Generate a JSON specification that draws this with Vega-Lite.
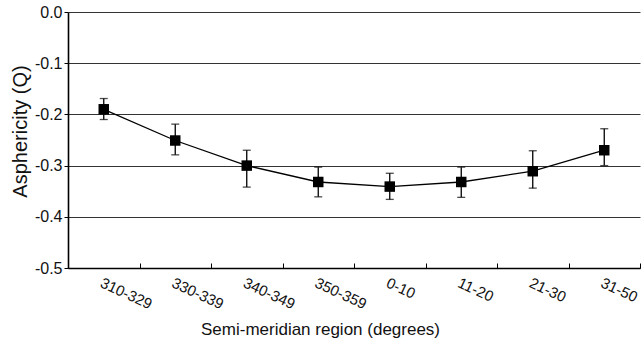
{
  "$schema": "https://vega.github.io/schema/vega-lite/v6.json",
  "autosize": "none",
  "width": 572,
  "height": 256,
  "padding": {"left": 68, "top": 12, "right": 4, "bottom": 75},
  "background": "white",
  "config": {
    "font": "Liberation Sans",
    "view": {"stroke": null},
    "axis": {"labelFont": "Liberation Sans", "titleFont": "Liberation Sans", "labelFontSize": 16, "titleFontSize": 17, "titleFontWeight": "normal", "labelColor": "#111", "titleColor": "#111"}
  },
  "data": {
    "values": [
      {"region": "310-329", "q": -0.19, "lo": -0.21, "hi": -0.169},
      {"region": "330-339", "q": -0.251, "lo": -0.279, "hi": -0.219},
      {"region": "340-349", "q": -0.30, "lo": -0.342, "hi": -0.27},
      {"region": "350-359", "q": -0.332, "lo": -0.361, "hi": -0.303},
      {"region": "0-10", "q": -0.341, "lo": -0.366, "hi": -0.315},
      {"region": "11-20", "q": -0.332, "lo": -0.362, "hi": -0.303},
      {"region": "21-30", "q": -0.311, "lo": -0.344, "hi": -0.271},
      {"region": "31-50", "q": -0.27, "lo": -0.30, "hi": -0.228}
    ]
  },
  "encoding": {
    "x": {
      "field": "region", "type": "nominal",
      "sort": ["310-329", "330-339", "340-349", "350-359", "0-10", "11-20", "21-30", "31-50"],
      "scale": {"type": "band", "paddingInner": 0, "paddingOuter": 0},
      "axis": {"title": "Semi-meridian region (degrees)", "labelAngle": 25, "labelAlign": "left", "labelBaseline": "top", "labelFontSize": 15, "tickBand": "extent", "domainColor": "#000", "domainWidth": 1.6, "tickColor": "#000", "tickSize": -5, "labelPadding": 12, "titleX": 252, "titleY": 66, "titleBaseline": "alphabetic", "grid": false}
    },
    "y": {
      "type": "quantitative",
      "scale": {"domain": [-0.5, 0], "nice": false, "zero": false},
      "axis": {"title": "Asphericity (Q)", "titleFontSize": 20, "titleX": -48, "titleY": 119, "titleBaseline": "middle", "titleAngle": -90, "values": [-0.5, -0.4, -0.3, -0.2, -0.1, 0], "labelExpr": "replace(format(datum.value, '.1f'), '\u2212', '-')", "grid": true, "gridColor": "#333", "gridWidth": 1, "domainColor": "#000", "domainWidth": 1.6, "tickColor": "#000", "tickSize": 4, "labelPadding": 2}
    }
  },
  "layer": [
    {"mark": {"type": "rule", "color": "#000", "strokeWidth": 1.3}, "encoding": {"y": {"field": "lo", "type": "quantitative"}, "y2": {"field": "hi"}}},
    {"mark": {"type": "tick", "color": "#000", "size": 8, "thickness": 1.3}, "encoding": {"y": {"field": "lo", "type": "quantitative"}}},
    {"mark": {"type": "tick", "color": "#000", "size": 8, "thickness": 1.3}, "encoding": {"y": {"field": "hi", "type": "quantitative"}}},
    {"mark": {"type": "line", "color": "#000", "strokeWidth": 1.3}, "encoding": {"y": {"field": "q", "type": "quantitative"}}},
    {"mark": {"type": "point", "shape": "square", "filled": true, "color": "#000", "opacity": 1, "size": 110}, "encoding": {"y": {"field": "q", "type": "quantitative"}}}
  ]
}
